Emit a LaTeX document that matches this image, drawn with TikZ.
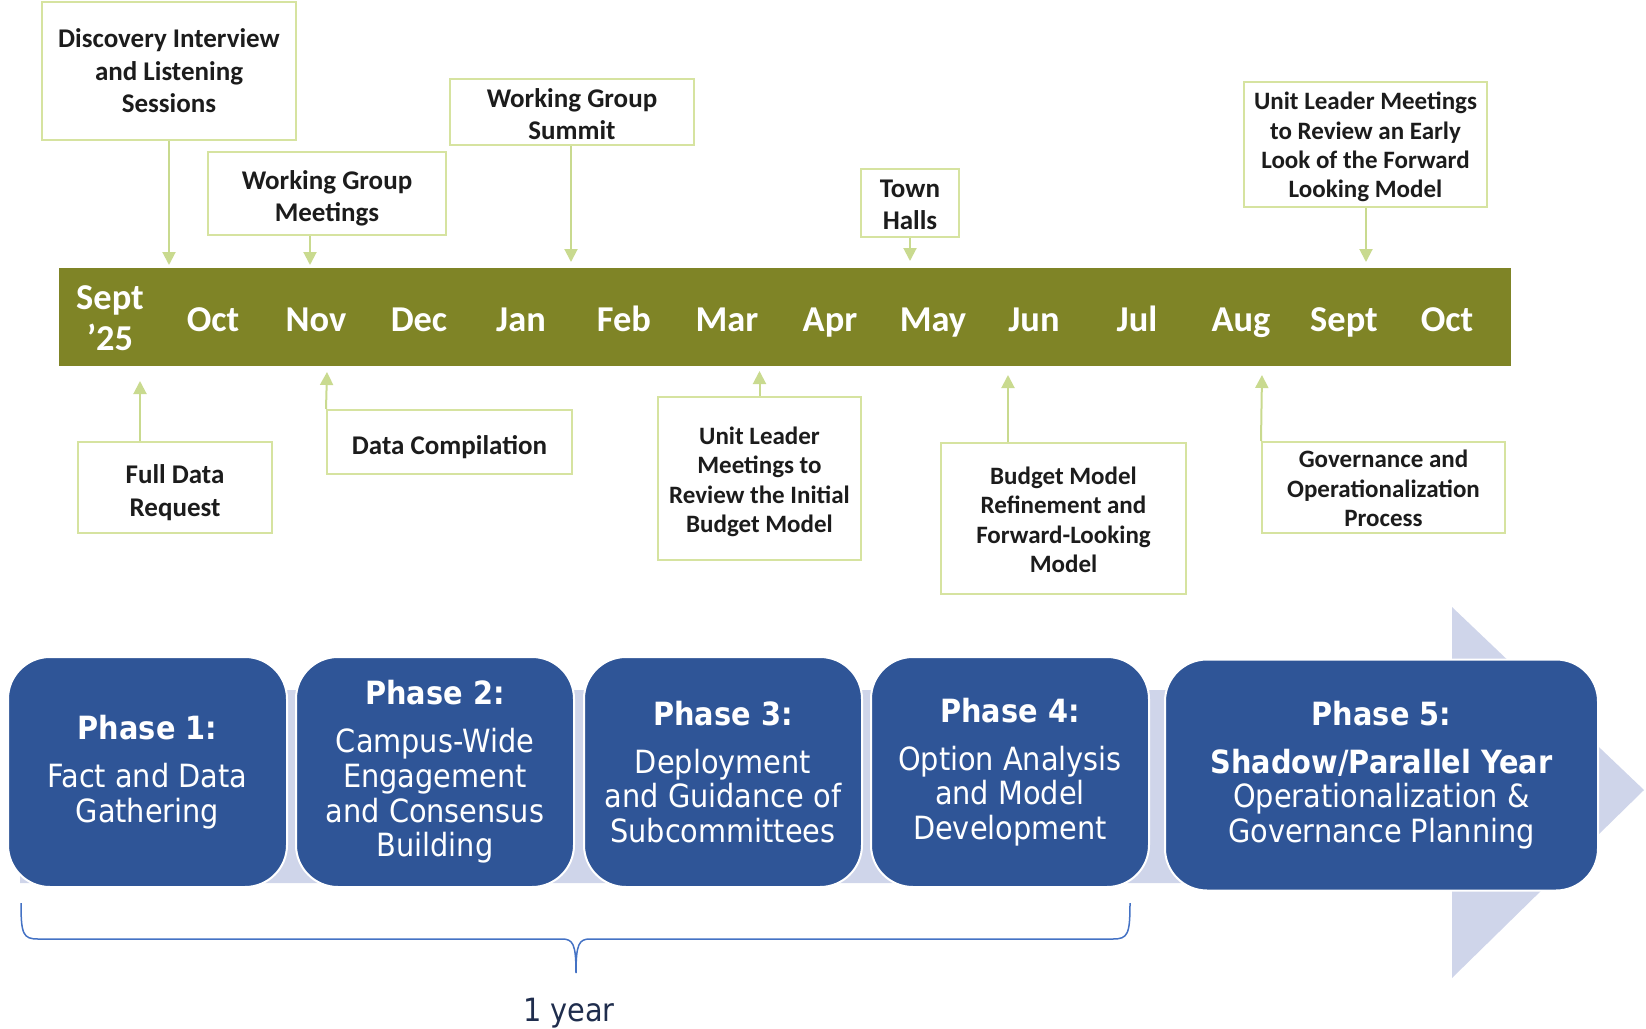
\documentclass[tikz,border=0pt]{standalone}
\usepackage{fontspec}
\setmainfont{Carlito}
\newfontfamily\tah{DejaVu Sans Condensed}
\usetikzlibrary{arrows.meta}

\definecolor{bandolive}{RGB}{127,132,38}
\definecolor{boxline}{RGB}{214,227,160}
\definecolor{arrline}{RGB}{201,218,143}
\definecolor{evtext}{RGB}{28,28,28}
\definecolor{phaseblue}{RGB}{47,85,151}
\definecolor{lav}{RGB}{207,213,234}
\definecolor{bracecol}{RGB}{68,114,196}
\definecolor{yeartext}{RGB}{31,45,77}

\newcommand\evfont{\fontsize{13.5}{16.3}\selectfont\bfseries}
\newcommand\evtight{\fontsize{12.5}{14.7}\selectfont\bfseries}
\newcommand\monthfont{\fontsize{18.2}{20.5}\selectfont\bfseries}
\newcommand\phasefont{\tah\fontsize{16}{17.3}\selectfont}
% invisible strut that lowers a box's text block
\newcommand\lowerby[1]{\rule{0pt}{#1}}

\tikzset{
  evbox/.style={draw=boxline, line width=1pt, fill=white, align=center,
    inner sep=0pt, text=evtext, font=\evfont},
  evarr/.style={draw=arrline, line width=1pt,
    -{Triangle[width=6.5pt,length=6.5pt,fill=arrline]}},
  month/.style={text=white, font=\monthfont, align=center, inner sep=0pt},
  phasebox/.style={draw=white, line width=1pt, fill=phaseblue,
    rounded corners=21pt, text=white, align=center, font=\phasefont,
    inner sep=0pt, minimum height=115pt},
}

\begin{document}
\begin{tikzpicture}[x=0.5pt,y=-0.5pt]
\useasboundingbox (0,0) rectangle (1646,1029);

% timeline band
\node[fill=bandolive, minimum width=726pt, minimum height=49pt, inner sep=0pt] (band) at (785,317) {};

% month labels
\node[month] (m1) at (110,318) {Sept\\’25};
\foreach \i/\x/\t in {2/213/Oct, 3/316/Nov, 4/419/Dec, 5/521/Jan, 6/624/Feb,
  7/727/Mar, 8/830/Apr, 9/933/May, 10/1034/Jun, 11/1137/Jul, 12/1241/Aug,
  13/1344/Sept, 14/1447/Oct}
  \node[month, anchor=base] (m\i) at (\x,331) {\t};

% events above the band
\node[evbox, minimum width=127pt, minimum height=69pt] (disc) at (169,71)
  {Discovery Interview\\and Listening\\Sessions};
\node[evbox, minimum width=119pt, minimum height=41.5pt] (wgm) at (327,193.5)
  {\lowerby{14.1pt}Working Group\\Meetings};
\node[evbox, minimum width=122pt, minimum height=33pt] (wgs) at (572,112)
  {\lowerby{11.5pt}Working Group\\Summit};
\node[evbox, minimum width=49pt, minimum height=34pt] (town) at (910,203)
  {\lowerby{10.5pt}Town\\Halls};
\node[evbox, minimum width=121.5pt, minimum height=62.5pt, font=\evtight] (ule) at (1365.5,144.5)
  {\lowerby{11.4pt}Unit Leader Meetings\\to Review an Early\\Look of the Forward\\Looking Model};

\coordinate (ta1) at (169,265);
\coordinate (ta2) at (310,265);
\coordinate (ta3) at (571,262);
\coordinate (ta4) at (910,261);
\coordinate (ta5) at (1366,262);
\draw[evarr] (disc.south -| ta1) -- (ta1);
\draw[evarr] (wgm.south -| ta2) -- (ta2);
\draw[evarr] (wgs.south -| ta3) -- (ta3);
\draw[evarr] (town.south -| ta4) -- (ta4);
\draw[evarr] (ule.south -| ta5) -- (ta5);

% events below the band
\node[evbox, minimum width=97pt, minimum height=45.5pt] (fdr) at (175,487.5)
  {\lowerby{14.8pt}Full Data\\Request};
\node[evbox, minimum width=122.5pt, minimum height=32pt] (dc) at (449.5,442)
  {\lowerby{14.6pt}Data Compilation};
\node[evbox, minimum width=101.5pt, minimum height=81.5pt, font=\evtight] (uli) at (759.5,478.5)
  {\lowerby{12pt}Unit Leader\\Meetings to\\Review the Initial\\Budget Model};
\node[evbox, minimum width=122.5pt, minimum height=75.5pt, font=\evtight] (bmr) at (1063.5,518.5)
  {\lowerby{9.9pt}Budget Model\\Refinement and\\Forward-Looking\\Model};
\node[evbox, minimum width=121.5pt, minimum height=45.5pt, font=\evtight] (gov) at (1383.5,487.5)
  {\lowerby{9.9pt}Governance and\\Operationalization\\Process};

\coordinate (ba1) at (140,381);
\coordinate (ba2) at (327,372);
\coordinate (ba3) at (759.5,371);
\coordinate (ba4) at (1008,375);
\coordinate (ba5) at (1262,375);
\draw[evarr] (fdr.north -| ba1) -- (ba1);
\draw[evarr] (dc.north west) -- (ba2);
\draw[evarr] (uli.north -| ba3) -- (ba3);
\draw[evarr] (bmr.north -| ba4) -- (ba4);
\draw[evarr] (gov.north west) -- (ba5);

% background process arrow
\fill[lav] (20,690) -- (1452,690) -- (1452,607) -- (1644,790)
  -- (1452,978) -- (1452,883) -- (20,883) -- cycle;

% phases
\node[phasebox, minimum width=139.5pt] (p1) at (147.5,772)
  {{\bfseries Phase 1:}\\[6.7pt]Fact and Data\\Gathering};
\node[phasebox, minimum width=139pt] (p2) at (435,772)
  {{\bfseries Phase 2:}\\[6.7pt]Campus-Wide\\Engagement\\and Consensus\\Building};
\node[phasebox, minimum width=139pt] (p3) at (723,772)
  {{\bfseries Phase 3:}\\[6.7pt]Deployment\\and Guidance of\\Subcommittees};
\node[phasebox, minimum width=139pt] (p4) at (1010,772)
  {{\bfseries Phase 4:}\\[6.7pt]Option Analysis\\and Model\\Development};
\node[phasebox, minimum width=216.5pt, minimum height=115.5pt] (p5) at (1381.5,775)
  {{\bfseries Phase 5:}\\[6.7pt]{\bfseries Shadow/Parallel Year}\\Operationalization \&\\Governance Planning};

% one-year brace under phases 1 to 4
\draw[bracecol, line width=0.75pt]
  (21,903) .. controls (21,934) and (23,939) .. (38,939) -- (562,939)
  .. controls (573,939) and (576,944) .. (576,973)
  .. controls (576,944) and (579,939) .. (590,939) -- (1113,939)
  .. controls (1128,939) and (1130,934) .. (1130,903);
\node[font=\tah\fontsize{16}{20}\selectfont, text=yeartext, inner sep=0pt] (year) at (569,1013) {1 year};

\end{tikzpicture}
\end{document}
